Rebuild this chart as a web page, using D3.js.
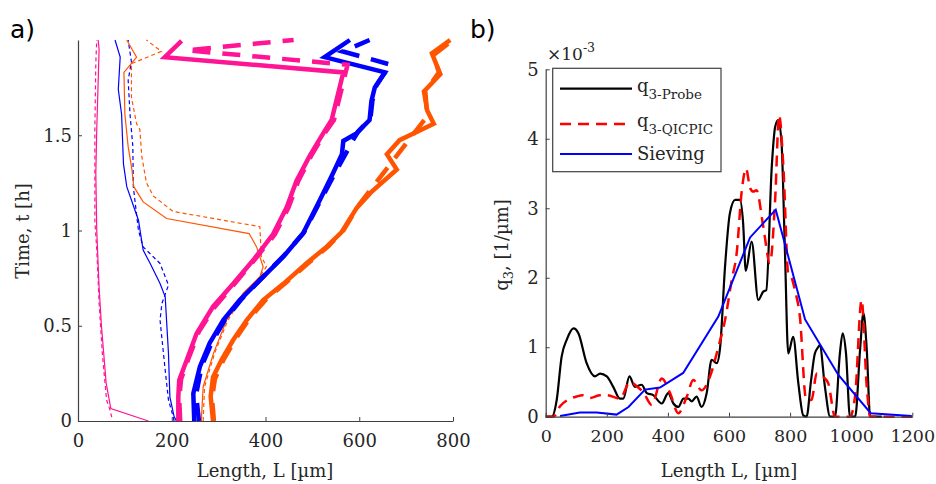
<!DOCTYPE html>
<html><head><meta charset="utf-8">
<script src="https://cdn.jsdelivr.net/npm/d3@7"></script>
<style>
html,body{margin:0;padding:0;background:#fff;}
svg{display:block;font-family:"DejaVu Serif",serif;}
</style></head>
<body><svg id="c" width="936" height="484"></svg>
<script>
// ---------- Panel a) : Length L [µm] vs Time t [h] ----------
const aXTicks = [0, 200, 400, 600, 800];
const aYTicks = [0, 0.5, 1, 1.5];
// [L, t] pairs
const magentaThickSolid = [[214,0],[214,0.13],[216,0.215],[232,0.32],[253,0.46],[288,0.6],[331,0.72],[374,0.845],[416,0.98],[445,1.12],[466,1.26],[494,1.39],[523,1.51],[541,1.58],[551,1.68],[562,1.79],[566,1.83],[185,1.91],[221,1.995]];
const magentaThickDash  = [[218,0],[216,0.12],[220,0.22],[236,0.33],[258,0.47],[292,0.6],[334,0.72],[378,0.85],[420,0.98],[449,1.12],[470,1.26],[497,1.39],[526,1.51],[546,1.58],[556,1.68],[566,1.78],[575,1.87],[232,1.946],[460,2.0]];
const blueThickSolid    = [[248,0],[246,0.145],[260,0.285],[281,0.41],[310,0.53],[345,0.635],[388,0.74],[438,0.862],[480,0.984],[516,1.16],[544,1.3],[563,1.40],[566,1.47],[594,1.51],[622,1.58],[626,1.68],[633,1.75],[655,1.83],[526,1.91],[580,2.0]];
const blueThickDash     = [[258,0],[252,0.14],[264,0.29],[285,0.41],[313,0.53],[349,0.64],[390,0.745],[440,0.87],[482,0.99],[518,1.16],[548,1.3],[575,1.42],[578,1.44],[598,1.52],[624,1.59],[628,1.68],[636,1.76],[652,1.82],[668,1.87],[565,1.94],[622,2.0]];
const orangeThickSolid  = [[288,0],[283,0.13],[288,0.23],[306,0.32],[331,0.425],[360,0.53],[395,0.635],[438,0.72],[487,0.827],[530,0.914],[562,0.99],[595,1.12],[625,1.2],[680,1.32],[659,1.40],[686,1.474],[759,1.56],[745,1.63],[738,1.73],[773,1.82],[755,1.93],[794,2.0]];
const orangeThickDash   = [[290,0],[286,0.12],[292,0.22],[310,0.32],[336,0.43],[366,0.54],[402,0.64],[445,0.73],[492,0.83],[535,0.92],[566,1.0],[598,1.13],[745,1.6],[741,1.73],[770,1.83],[758,1.92],[800,2.0]];
const magentaThinSolid  = [[150,0],[70,0.065],[60,0.2],[50,0.5],[45,0.7],[40,1.0],[38,1.3],[40,1.53],[45,1.95],[43,2.0]];
const magentaThinDash   = [[72,0.02],[68,0.06],[61,0.11],[52,0.35],[45,0.62],[40,0.9],[36,1.05],[36,1.53],[38,1.88],[40,2.0]];
const blueThinSolid     = [[210,0],[205,0.023],[196,0.127],[193,0.355],[186,0.652],[175,0.722],[154,0.827],[139,0.897],[129,1.054],[104,1.23],[97,1.35],[93,1.61],[86,1.74],[90,1.91],[79,2.0]];
const blueThinDash      = [[205,0],[203,0.023],[193,0.11],[186,0.267],[175,0.53],[179,0.617],[193,0.713],[175,0.827],[139,0.914],[129,1.0],[118,1.23],[117,1.44],[111,1.61],[107,1.79],[114,1.885],[107,2.0]];
const orangeThinSolid   = [[263,0],[267,0.18],[289,0.355],[317,0.53],[352,0.67],[388,0.757],[395,0.81],[381,0.914],[365,0.984],[189,1.063],[139,1.15],[119,1.23],[115,1.32],[107,1.44],[100,1.61],[98,1.83],[125,1.91],[104,2.0]];
const orangeThinDash    = [[267,0],[270,0.18],[292,0.36],[320,0.53],[355,0.67],[374,0.71],[388,0.76],[402,0.81],[391,0.865],[388,1.02],[203,1.1],[161,1.18],[146,1.25],[136,1.39],[132,1.53],[125,1.56],[114,1.70],[114,1.876],[178,1.94],[146,2.0]];

// ---------- Panel b) : q3 [1/µm] (×10^-3) vs Length L ----------
const bXTicks = [0, 200, 400, 600, 800, 1000, 1200];
const bYTicks = [0, 1, 2, 3, 4, 5];
const probeL = [0,20,36,52,70,91,107,134,161,178,200,221,243,254,274,292,314,331,352,380,401,418,434,451,467,478,494,510,527,543,560,571,587,603,620,636,646,655,674,696,712,722,740,751,761,772,783,794,810,827,843,854,868,881,892,897,914,931,947,963,972,983,996,1013,1029,1040,1051,1062,1100];
const probeQ = [0,0,0.24,0.86,1.12,1.27,1.2,0.77,0.58,0.62,0.58,0.43,0.26,0.26,0.58,0.43,0.46,0.34,0.31,0.19,0.34,0.19,0.14,0.26,0.26,0.22,0.29,0.14,0.34,0.82,0.77,1.0,2.16,2.93,3.12,3.12,2.8,2.1,2.52,1.68,1.8,1.82,3.6,4.17,4.27,3.94,2.4,0.91,1.15,0.48,0.02,0,0.5,0.91,1.0,1.03,0.43,0,0,0.91,1.2,0.91,0,0,0.96,1.49,0.96,0,0];
const qicpicL = [0,25,47,80,101,120,145,178,200,243,276,300,320,347,380,407,434,462,483,510,538,565,587,609,625,642,656,669,680,690,712,734,751,764,778,794,805,816,832,852,870,887,909,925,947,996,1013,1034,1051,1062,1200];
const qicpicQ = [0,0,0.15,0.26,0.29,0.31,0.27,0.31,0.31,0.26,0.5,0.43,0.35,0.17,0.55,0.34,0.05,0.29,0.53,0.38,0.58,1.0,1.39,1.97,2.35,3.26,3.57,3.29,3.24,3.26,2.74,2.21,3.12,4.34,3.6,2.06,2.0,1.82,1.44,0.26,0.24,0.62,0.57,0.48,0,0,0.31,1.68,0.43,0,0];
const sievingL = [47,112,167,232,271,325,374,450,565,669,753,849,958,1064,1198];
const sievingQ = [0.01,0.06,0.06,0.03,0.14,0.39,0.42,0.63,1.44,2.58,2.98,1.40,0.60,0.05,0.01];
const legendLabels = [["q","3-Probe"],["q","3-QICPIC"],["Sieving",""]];

const svg = d3.select("#c");
const AX = "#404040", TX = "#262626";
const MAG = "#ff1493", BLU = "#0000ff", ORG = "#ff5500";
const FS = 18;

// ----- panel a scales -----
const xa = d3.scaleLinear().domain([0, 800]).range([78, 453]);
const ya = d3.scaleLinear().domain([0, 2]).range([421, 40]);
const ga = svg.append("g");
const lineA = d3.line().x(d => xa(d[0])).y(d => ya(d[1]));
function drawA(data, color, w, dash) {
  ga.append("path").datum(data).attr("d", lineA).attr("fill", "none")
    .attr("stroke", color).attr("stroke-width", w)
    .attr("stroke-dasharray", dash || null).attr("stroke-linejoin", "miter");
}
drawA(magentaThinSolid, MAG, 1.2);
drawA(magentaThinDash, MAG, 1.2, "4,3");
drawA(blueThinSolid, BLU, 1.2);
drawA(blueThinDash, BLU, 1.2, "4,3");
drawA(orangeThinSolid, ORG, 1.2);
drawA(orangeThinDash, ORG, 1.2, "4,3");
drawA(orangeThickSolid, ORG, 4.5);
drawA(orangeThickDash, ORG, 4.5, "18,12");
drawA(blueThickSolid, BLU, 4.5);
drawA(blueThickDash, BLU, 4.5, "18,12");
drawA(magentaThickSolid, MAG, 4.5);
drawA(magentaThickDash, MAG, 4.5, "18,12");

const axA_x = svg.append("g").attr("transform", "translate(0,421)")
  .call(d3.axisBottom(xa).tickValues(aXTicks).tickFormat(d3.format("d")).tickSizeInner(-4).tickSizeOuter(0).tickPadding(13));
const axA_y = svg.append("g").attr("transform", "translate(78,0)")
  .call(d3.axisLeft(ya).tickValues(aYTicks).tickFormat(d3.format("")).tickSizeInner(-4).tickSizeOuter(0).tickPadding(6));

// ----- panel b scales -----
const xb = d3.scaleLinear().domain([0, 1200]).range([545.7, 912.3]);
const yb = d3.scaleLinear().domain([0, 5]).range([416.7, 69.3]);
const gb = svg.append("g");
const mk = (L, Q) => L.map((v, i) => [v, Q[i]]);
const lineB = d3.line().x(d => xb(d[0])).y(d => yb(d[1])).curve(d3.curveMonotoneX);
const lineBlin = d3.line().x(d => xb(d[0])).y(d => yb(d[1]));
gb.append("path").datum(mk(probeL, probeQ)).attr("d", lineB).attr("fill", "none").attr("stroke", "#000").attr("stroke-width", 2.2);
gb.append("path").datum(mk(qicpicL, qicpicQ)).attr("d", lineB).attr("fill", "none").attr("stroke", "#ff0000").attr("stroke-width", 2.5).attr("stroke-dasharray", "11,7");
gb.append("path").datum(mk(sievingL, sievingQ)).attr("d", lineBlin).attr("fill", "none").attr("stroke", "#0000ff").attr("stroke-width", 2);

const axB_x = svg.append("g").attr("transform", "translate(0,416.7)")
  .call(d3.axisBottom(xb).tickValues(bXTicks).tickFormat(d3.format("d")).tickSizeInner(-4).tickSizeOuter(0).tickPadding(13));
const axB_y = svg.append("g").attr("transform", "translate(545.7,0)")
  .call(d3.axisLeft(yb).tickValues(bYTicks).tickFormat(d3.format("d")).tickSizeInner(-4).tickSizeOuter(0).tickPadding(7));

[axA_x, axA_y, axB_x, axB_y].forEach(a => {
  a.select(".domain").attr("stroke", AX).attr("stroke-width", 1.2);
  a.selectAll(".tick line").attr("stroke", AX).attr("stroke-width", 1);
  a.selectAll(".tick text").attr("fill", TX).style("font-family", "DejaVu Serif").style("font-size", FS + "px");
});
axB_x.selectAll(".tick text").style("font-size", "17.5px");

// legend
const lg = svg.append("g");
lg.append("rect").attr("x", 552.7).attr("y", 68.3).attr("width", 168.3).attr("height", 103.4)
  .attr("fill", "#fff").attr("stroke", AX).attr("stroke-width", 1.2);
const legY = [88.7, 124, 154];
const legStyle = [["#000", 2.2, null], ["#ff0000", 2.5, "11,7"], ["#0000ff", 2, null]];
legendLabels.forEach((lab, i) => {
  lg.append("line").attr("x1", 560).attr("x2", 632).attr("y1", legY[i]).attr("y2", legY[i])
    .attr("stroke", legStyle[i][0]).attr("stroke-width", legStyle[i][1]).attr("stroke-dasharray", legStyle[i][2]);
  const t = lg.append("text").attr("x", 637).attr("y", legY[i] + (i === 2 ? 6 : 3))
    .attr("fill", TX).style("font-size", FS + "px");
  t.append("tspan").text(lab[0]);
  if (lab[1]) t.append("tspan").attr("dy", 7).style("font-size", "13.5px").text(lab[1]);
});

// multiplier
const mt = svg.append("text").attr("x", 547).attr("y", 60).attr("fill", TX).style("font-size", "17px");
mt.append("tspan").text("×10");
mt.append("tspan").attr("dy", -8).style("font-size", "12.5px").text("-3");

// axis labels
svg.append("text").attr("x", 265).attr("y", 477).attr("text-anchor", "middle").attr("fill", TX)
  .style("font-size", FS + "px").text("Length, L [µm]");
svg.append("text").attr("x", 729).attr("y", 477).attr("text-anchor", "middle").attr("fill", TX)
  .style("font-size", FS + "px").text("Length L, [µm]");
svg.append("text").attr("transform", "translate(29,231) rotate(-90)").attr("text-anchor", "middle")
  .attr("fill", TX).style("font-size", FS + "px").text("Time, t [h]");
const qy = svg.append("text").attr("transform", "translate(508,245) rotate(-90)").attr("text-anchor", "middle")
  .attr("fill", TX).style("font-size", FS + "px");
qy.append("tspan").text("q");
qy.append("tspan").attr("dy", 5).style("font-size", "13px").text("3");
qy.append("tspan").attr("dy", -5).text(", [1/µm]");

// panel letters
svg.append("text").attr("x", 10).attr("y", 38).attr("fill", "#000").style("font-size", "25px").style("font-family", "DejaVu Sans").text("a)");
svg.append("text").attr("x", 470).attr("y", 38).attr("fill", "#000").style("font-size", "25px").style("font-family", "DejaVu Sans").text("b)");
</script>
</body></html>
